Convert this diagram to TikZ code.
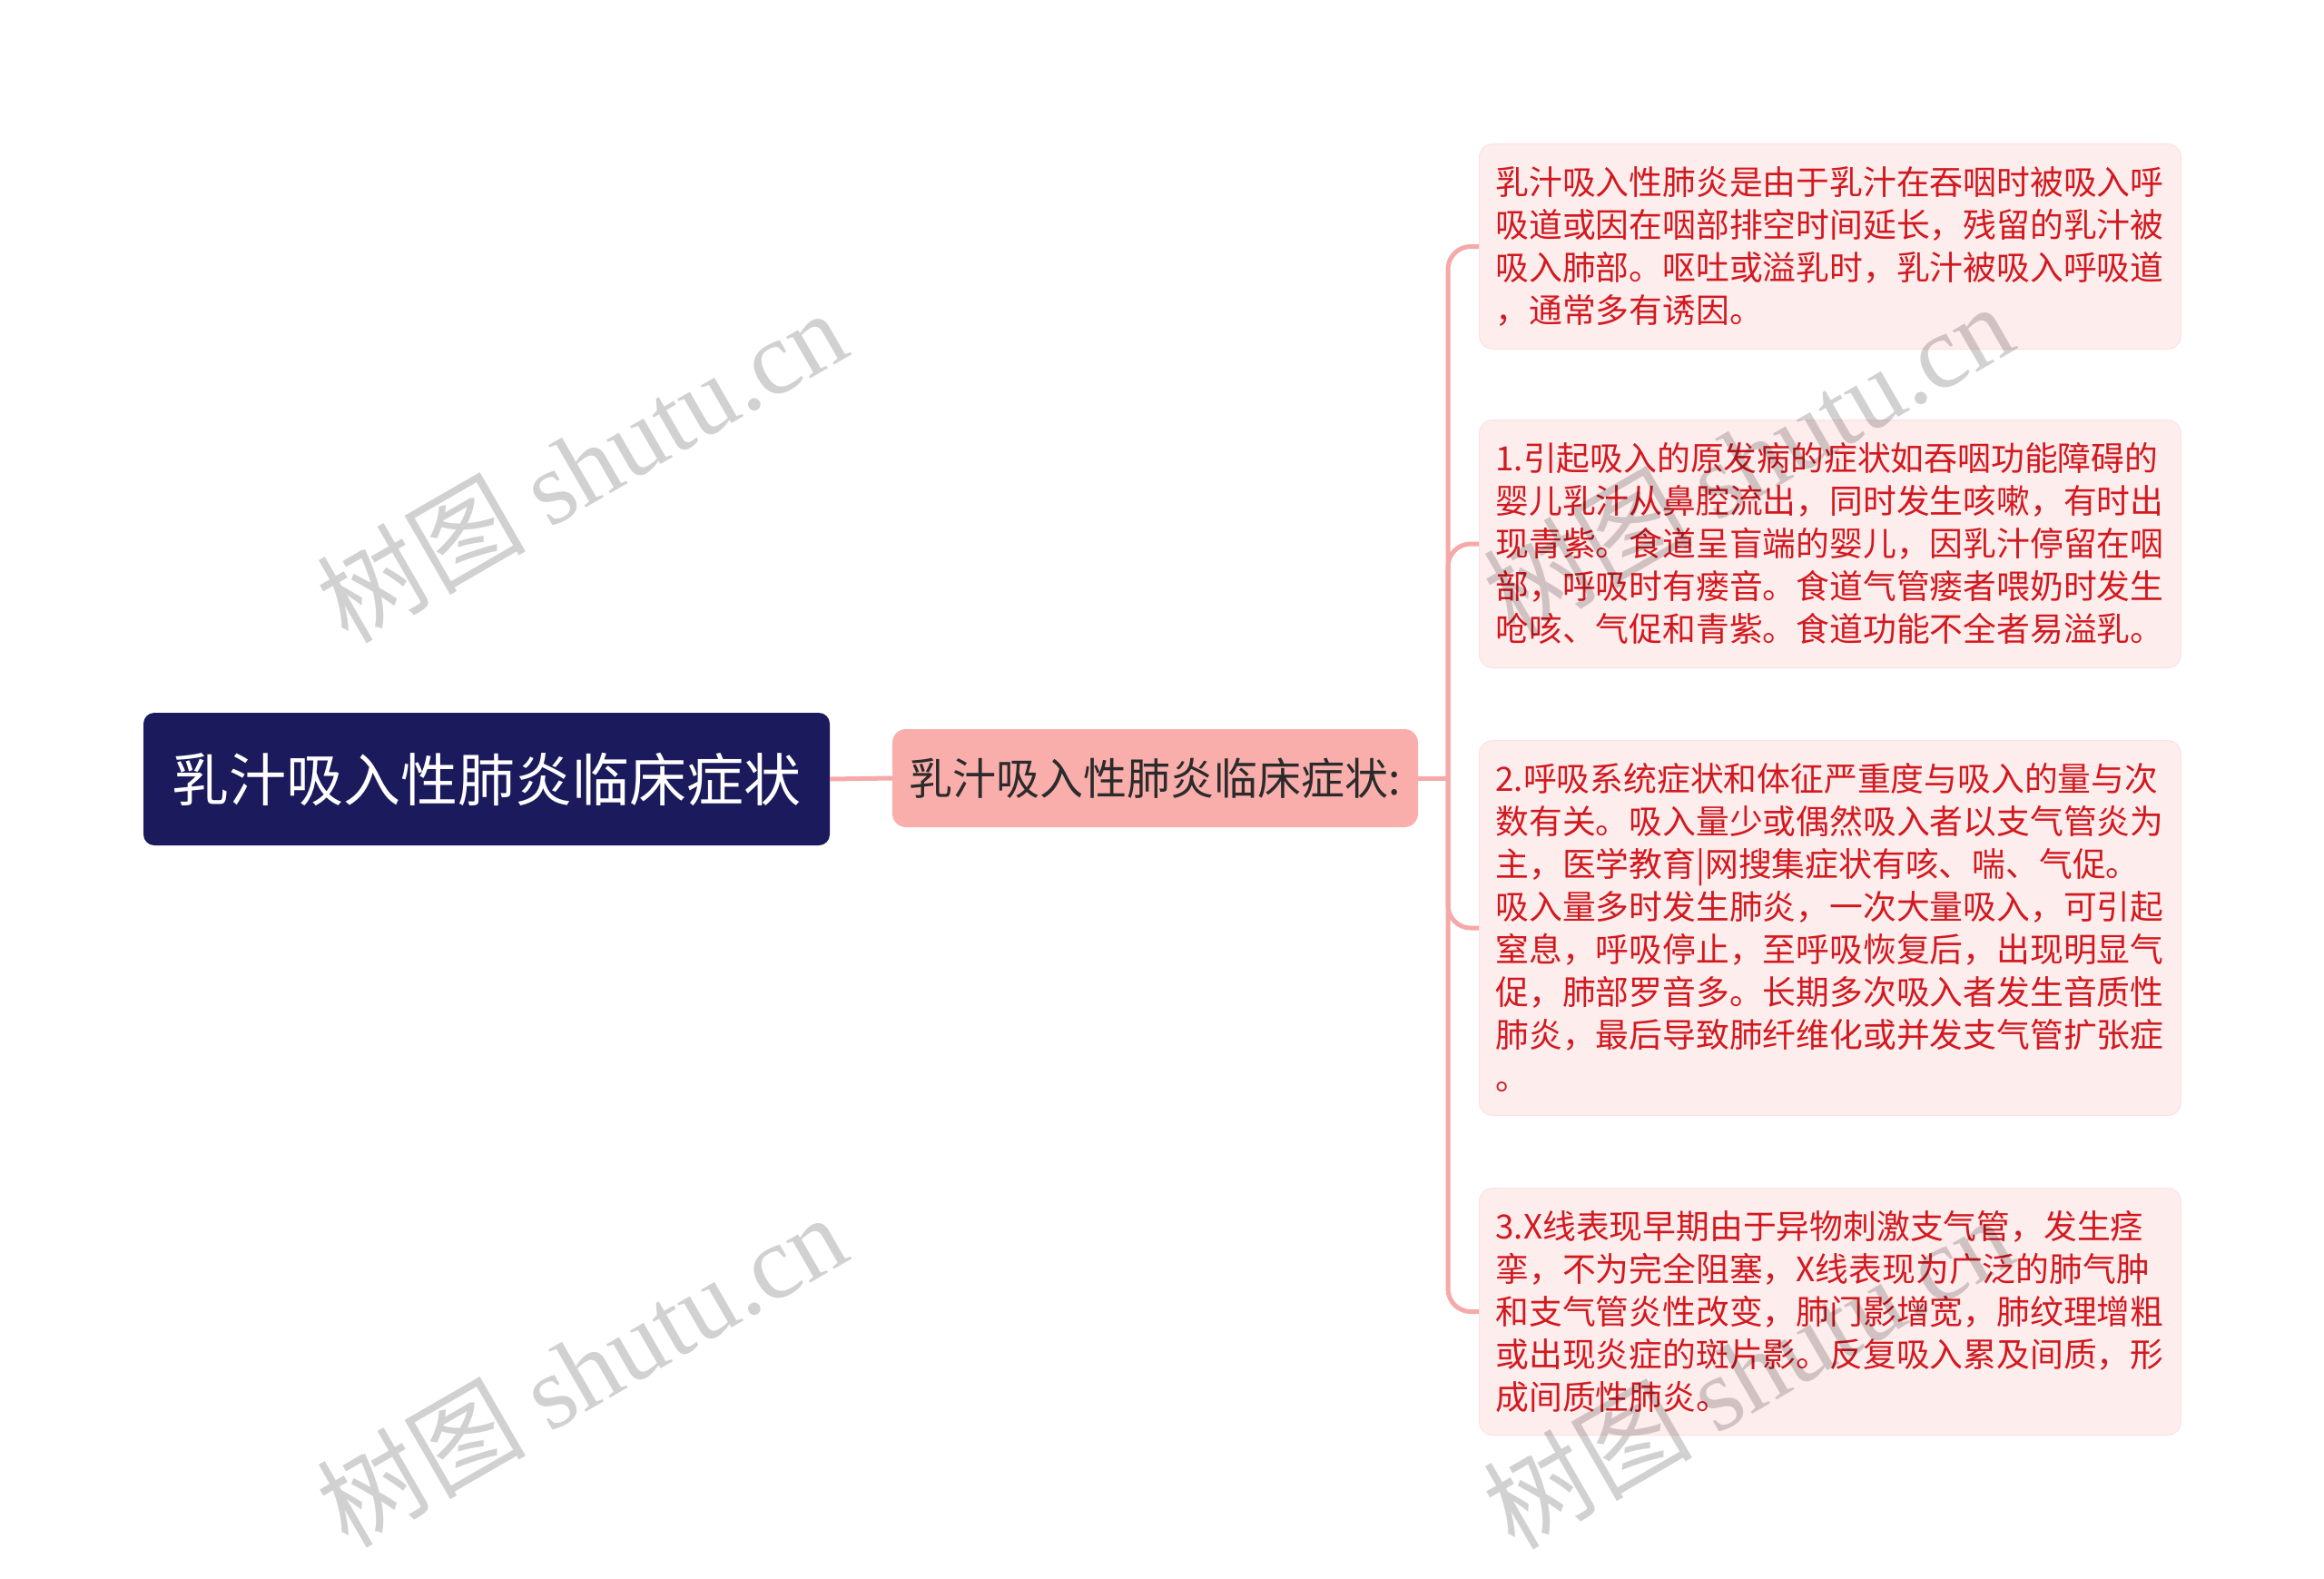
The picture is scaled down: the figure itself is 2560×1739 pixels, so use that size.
\documentclass[tikz,border=0pt]{standalone}
\usepackage{fontspec}
\setmainfont{Noto Sans CJK SC}
\newfontfamily\wmcjk{Noto Sans CJK SC}
\newfontfamily\wmlat{Liberation Serif}
\definecolor{rootfill}{HTML}{1B1A5C}
\definecolor{midfill}{HTML}{F9AEAC}
\definecolor{leaffill}{HTML}{FEEDED}
\definecolor{leafline}{HTML}{FCE2E2}
\definecolor{leaftext}{HTML}{D2191F}
\definecolor{connc}{HTML}{F5A9A8}
\definecolor{midtext}{HTML}{2B2B2B}
\begin{document}
\begin{tikzpicture}[x=1pt,y=-1pt,
  rootbox/.style={fill=rootfill, rounded corners=12pt, text=white, minimum width=756pt, minimum height=146pt, inner sep=0pt, font=\fontsize{63}{70}\selectfont},
  midbox/.style={fill=midfill, rounded corners=15pt, text=midtext, minimum width=579pt, minimum height=108pt, inner sep=0pt, font=\fontsize{48}{56}\selectfont},
  leafbox/.style={fill=leaffill, draw=leafline, line width=1pt, rounded corners=15pt, text=leaftext, text width=737pt, inner xsep=18pt, inner ysep=0pt, align=left, anchor=north west, font=\fontsize{36.8}{47}\selectfont},
  conn/.style={draw=connc, line width=5pt},
  wm/.style={rotate=30, text=black, opacity=0.18, font=\fontsize{115}{120}\selectfont}
]
\useasboundingbox (0,0) rectangle (2560,1739);
\fill[white] (0,0) rectangle (2560,1739);

\node[rootbox] (root) at (536,858) {乳汁吸入性肺炎临床症状};
\node[midbox] (mid) at (1272.5,857) {乳汁吸入性肺炎临床症状:};

\node[leafbox, minimum height=226pt] (b1) at (1629,158) {乳汁吸入性肺炎是由于乳汁在吞咽时被吸入呼\\吸道或因在咽部排空时间延长，残留的乳汁被\\吸入肺部。呕吐或溢乳时，乳汁被吸入呼吸道\\，通常多有诱因。};
\node[leafbox, minimum height=273pt] (b2) at (1629,462) {1.引起吸入的原发病的症状如吞咽功能障碍的\\婴儿乳汁从鼻腔流出，同时发生咳嗽，有时出\\现青紫。食道呈盲端的婴儿，因乳汁停留在咽\\部，呼吸时有瘘音。食道气管瘘者喂奶时发生\\呛咳、气促和青紫。食道功能不全者易溢乳。};
\node[leafbox, minimum height=413pt] (b3) at (1629,815) {2.呼吸系统症状和体征严重度与吸入的量与次\\数有关。吸入量少或偶然吸入者以支气管炎为\\主，医学教育|网搜集症状有咳、喘、气促。\\吸入量多时发生肺炎，一次大量吸入，可引起\\窒息，呼吸停止，至呼吸恢复后，出现明显气\\促，肺部罗音多。长期多次吸入者发生音质性\\肺炎，最后导致肺纤维化或并发支气管扩张症\\。};
\node[leafbox, minimum height=272pt] (b4) at (1629,1308) {3.X线表现早期由于异物刺激支气管，发生痉\\挛，不为完全阻塞，X线表现为广泛的肺气肿\\和支气管炎性改变，肺门影增宽，肺纹理增粗\\或出现炎症的斑片影。反复吸入累及间质，形\\成间质性肺炎。};

\coordinate (trunk) at (1595,857);
\draw[conn] (root.east) -- (mid.west);
\draw[conn] (mid.east) -- (trunk);
\foreach \b in {b1,b2,b3,b4}
  \draw[conn, rounded corners=25pt] (trunk) |- (\b.west);

\node[wm] (wm1) at (640,512) {{\wmcjk 树图} {\wmlat shutu.cn}};
\node[wm] (wm2) at (1925,505) {{\wmcjk 树图} {\wmlat shutu.cn}};
\node[wm] (wm3) at (640,1508) {{\wmcjk 树图} {\wmlat shutu.cn}};
\node[wm] (wm4) at (1925,1510) {{\wmcjk 树图} {\wmlat shutu.cn}};
\end{tikzpicture}
\end{document}
